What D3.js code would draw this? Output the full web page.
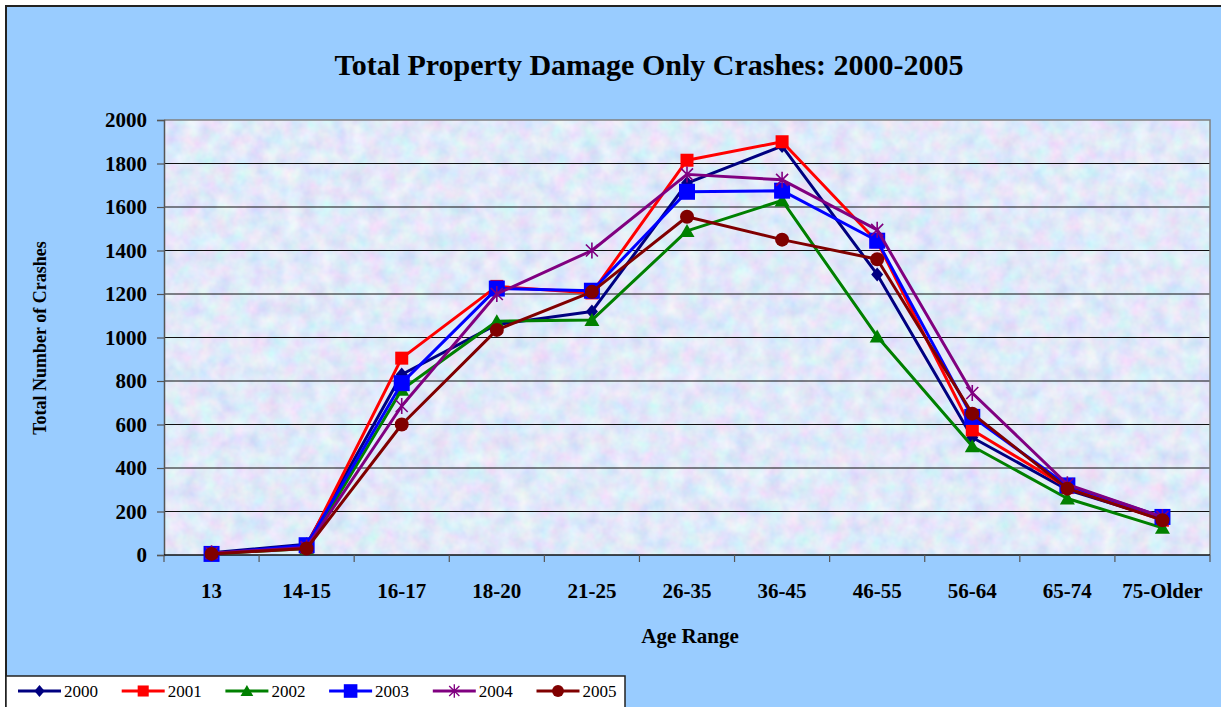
<!DOCTYPE html>
<html>
<head>
<meta charset="utf-8">
<script src="https://cdn.jsdelivr.net/npm/d3@7"></script>
<style>
  body { margin: 0; background: #fff; }
  svg text { font-family: "Liberation Serif", "Times New Roman", serif; font-weight: bold; fill: #000; }
</style>
</head>
<body>
<div id="chart"></div>
<script>
// age groups on the x axis
var ages = ["13", "14-15", "16-17", "18-20", "21-25", "26-35", "36-45", "46-55", "56-64", "65-74", "75-Older"];

// crash counts per year
var y2000 = [10, 50, 830, 1060, 1120, 1710, 1880, 1290, 540, 300, 165];
var y2001 = [5, 40, 905, 1235, 1205, 1815, 1900, 1440, 575, 310, 160];
var y2002 = [5, 30, 760, 1075, 1080, 1490, 1630, 1005, 500, 260, 125];
var y2003 = [5, 45, 790, 1225, 1215, 1670, 1675, 1445, 635, 320, 175];
var y2004 = [8, 35, 685, 1200, 1400, 1750, 1725, 1495, 745, 325, 175];
var y2005 = [5, 30, 600, 1035, 1210, 1555, 1450, 1360, 650, 305, 160];

var years = ["2000", "2001", "2002", "2003", "2004", "2005"];
var yTicks = [0, 200, 400, 600, 800, 1000, 1200, 1400, 1600, 1800, 2000];

var series = [
    { name: years[0], values: y2000, color: "#000080", marker: "diamond" },
    { name: years[1], values: y2001, color: "#ff0000", marker: "square" },
    { name: years[2], values: y2002, color: "#008000", marker: "triangle" },
    { name: years[3], values: y2003, color: "#0000ff", marker: "bigsquare" },
    { name: years[4], values: y2004, color: "#800080", marker: "star" },
    { name: years[5], values: y2005, color: "#800000", marker: "circle" }
];

var W = 1221, H = 707;
var plot = { left: 164, top: 120, right: 1210, bottom: 555 };

var svg = d3.select("#chart").append("svg")
    .attr("width", W)
    .attr("height", H);

var defs = svg.append("defs");

// speckled pastel fill of the plot area
var filt = defs.append("filter")
    .attr("id", "paper")
    .attr("x", 0).attr("y", 0).attr("width", 1).attr("height", 1);
filt.append("feTurbulence")
    .attr("type", "fractalNoise")
    .attr("baseFrequency", 0.06)
    .attr("numOctaves", 3)
    .attr("seed", 7);
filt.append("feColorMatrix")
    .attr("type", "matrix")
    .attr("values", "0.45 0 0 0 0.53  0 0.35 0 0 0.64  0 0 0.15 0 0.87  0 0 0 0 1");

// outer chart area
svg.append("rect")
    .attr("x", 6).attr("y", 6)
    .attr("width", W + 10).attr("height", H + 10)
    .attr("fill", "#99ccff")
    .attr("stroke", "#222")
    .attr("stroke-width", 2);

var x = d3.scaleBand()
    .domain(ages)
    .range([plot.left, plot.right])
    .padding(0);

var y = d3.scaleLinear()
    .domain([0, 2000])
    .range([plot.bottom, plot.top]);

// plot background
svg.append("rect")
    .attr("x", plot.left).attr("y", plot.top)
    .attr("width", plot.right - plot.left)
    .attr("height", plot.bottom - plot.top)
    .attr("filter", "url(#paper)");

// gridlines
svg.append("g")
    .selectAll("line")
    .data(yTicks.filter(function(d) { return d > 0 && d < 2000; }))
    .enter().append("line")
    .attr("x1", plot.left).attr("x2", plot.right)
    .attr("y1", function(d) { return y(d); })
    .attr("y2", function(d) { return y(d); })
    .attr("stroke", "#111")
    .attr("stroke-width", 1.2);

// top and right border of the plot
svg.append("path")
    .attr("d", "M" + plot.left + "," + plot.top + "H" + plot.right + "V" + plot.bottom)
    .attr("fill", "none")
    .attr("stroke", "#808080")
    .attr("stroke-width", 1.5);

// y axis
var yAxis = svg.append("g")
    .attr("transform", "translate(" + plot.left + ",0)")
    .call(d3.axisLeft(y).tickValues(yTicks).tickFormat(d3.format("d")).tickSize(7).tickPadding(10));
yAxis.select(".domain").attr("stroke", "#555").attr("stroke-width", 1.5);
yAxis.selectAll(".tick line").attr("stroke", "#555").attr("stroke-width", 1.2);
yAxis.selectAll("text").style("font-size", "21px").attr("fill", "#000");

// x axis - ticks sit between categories
var xAxis = svg.append("g")
    .attr("transform", "translate(0," + plot.bottom + ")");
xAxis.append("line")
    .attr("x1", plot.left).attr("x2", plot.right)
    .attr("stroke", "#111").attr("stroke-width", 1.5);
xAxis.selectAll(".xt")
    .data(ages.concat(["end"]))
    .enter().append("line")
    .attr("class", "xt")
    .attr("x1", function(d, i) { return i < ages.length ? x(d) : plot.right; })
    .attr("x2", function(d, i) { return i < ages.length ? x(d) : plot.right; })
    .attr("y1", 0).attr("y2", 7)
    .attr("stroke", "#555").attr("stroke-width", 1.2);
xAxis.selectAll("text")
    .data(ages)
    .enter().append("text")
    .attr("x", function(d) { return x(d) + x.bandwidth() / 2; })
    .attr("y", 43)
    .attr("text-anchor", "middle")
    .style("font-size", "21px")
    .text(function(d) { return d; });

// titles
svg.append("text")
    .attr("x", 649).attr("y", 75)
    .attr("text-anchor", "middle")
    .style("font-size", "30px")
    .text("Total Property Damage Only Crashes: 2000-2005");

svg.append("text")
    .attr("x", 690).attr("y", 643)
    .attr("text-anchor", "middle")
    .style("font-size", "21px")
    .text("Age Range");

svg.append("text")
    .attr("transform", "translate(46,338) rotate(-90)")
    .attr("text-anchor", "middle")
    .style("font-size", "18px")
    .text("Total Number of Crashes");

// marker drawing
function drawMarker(sel, kind, color) {
    if (kind === "diamond") {
        sel.append("path").attr("d", "M0,-7L6,0L0,7L-6,0Z").attr("fill", color);
    } else if (kind === "square") {
        sel.append("rect").attr("x", -6.5).attr("y", -6.5).attr("width", 13).attr("height", 13).attr("fill", color);
    } else if (kind === "bigsquare") {
        sel.append("rect").attr("x", -8).attr("y", -8).attr("width", 16).attr("height", 16).attr("fill", color);
    } else if (kind === "triangle") {
        sel.append("path").attr("d", "M0,-7L7.5,6L-7.5,6Z").attr("fill", color);
    } else if (kind === "star") {
        sel.append("path")
            .attr("d", "M-6,-6L6,6M-6,6L6,-6M0,-8V8")
            .attr("stroke", color).attr("stroke-width", 1.6).attr("fill", "none");
    } else if (kind === "circle") {
        sel.append("circle").attr("r", 7).attr("fill", color);
    }
}

var line = d3.line()
    .x(function(d, i) { return x(ages[i]) + x.bandwidth() / 2; })
    .y(function(d) { return y(d); });

series.forEach(function(s) {
    var g = svg.append("g").attr("class", "series");
    g.append("path")
        .datum(s.values)
        .attr("d", line)
        .attr("fill", "none")
        .attr("stroke", s.color)
        .attr("stroke-width", 3)
        .attr("stroke-linejoin", "round");
    g.selectAll(".m")
        .data(s.values)
        .enter().append("g")
        .attr("class", "m")
        .attr("transform", function(d, i) {
            return "translate(" + (x(ages[i]) + x.bandwidth() / 2) + "," + y(d) + ")";
        })
        .each(function() { drawMarker(d3.select(this), s.marker, s.color); });
});

// legend
var legend = svg.append("g");
legend.append("rect")
    .attr("x", 6).attr("y", 676)
    .attr("width", 619).attr("height", 40)
    .attr("fill", "#fff")
    .attr("stroke", "#222")
    .attr("stroke-width", 1.5);

var leg = legend.selectAll(".li")
    .data(series)
    .enter().append("g")
    .attr("class", "li")
    .attr("transform", function(d, i) { return "translate(" + (18 + i * 103.7) + ",691)"; });
leg.append("line")
    .attr("x1", 0).attr("x2", 43)
    .attr("stroke", function(d) { return d.color; })
    .attr("stroke-width", 3);
leg.append("g")
    .attr("transform", "translate(21.5,0) scale(0.85)")
    .each(function(d) { drawMarker(d3.select(this), d.marker, d.color); });
leg.append("text")
    .attr("x", 46).attr("y", 6)
    .style("font-size", "17px")
    .style("font-weight", "normal")
    .text(function(d) { return d.name; });
</script>
</body>
</html>
